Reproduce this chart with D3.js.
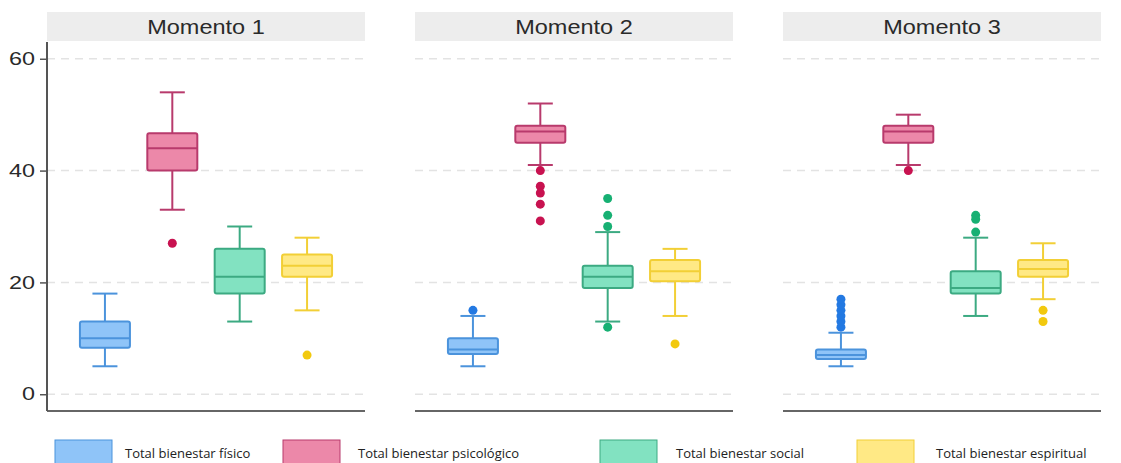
<!DOCTYPE html>
<html>
<head>
<meta charset="utf-8">
<script src="https://cdn.jsdelivr.net/npm/d3@7"></script>
<style>
  body { margin: 0; background: #fff; }
  svg { display: block; }
</style>
</head>
<body>
<div id="root"></div>
<script>
// Data
var moments = ["Momento 1", "Momento 2", "Momento 3"];
var seriesNames = ["Total bienestar físico", "Total bienestar psicológico", "Total bienestar social", "Total bienestar espiritual"];

// one row per moment, one value per series
var whiskerLow  = [[5, 33, 13, 15], [5, 41, 13, 14], [5, 41, 14, 17]];
var q1          = [[8.3, 40, 18, 21], [7.2, 45, 19, 20.2], [6.3, 45, 18, 21]];
var median      = [[10, 44, 21, 23], [8, 47, 21, 22], [7, 47, 19, 22.4]];
var q3          = [[13, 46.7, 26, 25], [10, 48, 23, 24], [8, 48, 22, 24]];
var whiskerHigh = [[18, 54, 30, 28], [14, 52, 29, 26], [11, 50, 28, 27]];
var outliers = [
  [[], [27], [], [7]],
  [[15], [40, 37.2, 36, 34, 31], [35, 32, 30, 12], [9]],
  [[12, 13, 14, 15, 16, 17], [40], [32, 31.3, 29], [15, 13]]
];
var yTicks = [0, 20, 40, 60];

var fills   = ["#8fc4f8", "#ec88a9", "#82e2c1", "#ffe985"];
var strokes = ["#4b93dc", "#b83a6c", "#3caa82", "#f2cf36"];
var dots    = ["#2379e2", "#c81250", "#17b073", "#f2c90e"];

var width = 1121, height = 463;
var svg = d3.select("#root").append("svg")
    .attr("width", width).attr("height", height);

var panelX = [47, 415, 783];
var panelW = 318;
var y = d3.scaleLinear().domain([-3, 63]).range([411, 42]);

moments.forEach(function (m, i) {
  var g = svg.append("g").attr("transform", "translate(" + panelX[i] + ",0)");

  // strip header
  g.append("rect").attr("x", 0).attr("y", 12).attr("width", panelW).attr("height", 29)
    .attr("fill", "#ededed");
  g.append("text")
    .attr("transform", "translate(" + (panelW / 2) + ",34) scale(1.12,1)")
    .attr("text-anchor", "middle")
    .style("font-family", "Liberation Sans, Arial, sans-serif")
    .style("font-size", "21px").attr("fill", "#2a2a2a").text(m);

  // dashed gridlines
  g.selectAll(".grid").data(yTicks).enter().append("line")
    .attr("x1", 0).attr("x2", panelW)
    .attr("y1", function (d) { return y(d); }).attr("y2", function (d) { return y(d); })
    .attr("stroke", "#e3e3e3").attr("stroke-width", 1.5).attr("stroke-dasharray", "8,6");

  // bottom axis line
  g.append("line").attr("x1", 0).attr("x2", panelW).attr("y1", 411).attr("y2", 411)
    .attr("stroke", "#666").attr("stroke-width", 2);

  var x = d3.scaleBand().domain(seriesNames).range([0, panelW]).paddingOuter(0.36).paddingInner(0);
  var bw = 50;

  seriesNames.forEach(function (s, j) {
    var cx = x(s) + x.bandwidth() / 2;
    var bg = g.append("g");
    // whisker
    bg.append("line").attr("x1", cx).attr("x2", cx)
      .attr("y1", y(whiskerLow[i][j])).attr("y2", y(whiskerHigh[i][j]))
      .attr("stroke", strokes[j]).attr("stroke-width", 2);
    [whiskerLow[i][j], whiskerHigh[i][j]].forEach(function (v) {
      bg.append("line").attr("x1", cx - bw / 4).attr("x2", cx + bw / 4)
        .attr("y1", y(v)).attr("y2", y(v))
        .attr("stroke", strokes[j]).attr("stroke-width", 2);
    });
    // box
    bg.append("rect").attr("x", cx - bw / 2).attr("width", bw)
      .attr("y", y(q3[i][j])).attr("height", y(q1[i][j]) - y(q3[i][j]))
      .attr("rx", 2)
      .attr("fill", fills[j]).attr("stroke", strokes[j]).attr("stroke-width", 2);
    bg.append("line").attr("x1", cx - bw / 2).attr("x2", cx + bw / 2)
      .attr("y1", y(median[i][j])).attr("y2", y(median[i][j]))
      .attr("stroke", strokes[j]).attr("stroke-width", 2);
    // outliers
    bg.selectAll("circle").data(outliers[i][j]).enter().append("circle")
      .attr("cx", cx).attr("cy", function (d) { return y(d); })
      .attr("r", 4.5).attr("fill", dots[j]);
  });
});

// y axis
var yAxis = svg.append("g").attr("transform", "translate(47,0)")
  .call(d3.axisLeft(y).tickValues(yTicks).tickSize(7).tickPadding(4));
yAxis.select(".domain").attr("stroke", "#555").attr("stroke-width", 2)
  .attr("d", "M0," + 42 + "V" + 411);
yAxis.selectAll(".tick line").attr("stroke", "#555").attr("stroke-width", 1.5);
yAxis.selectAll(".tick text")
  .attr("x", null)
  .attr("transform", "translate(-12,0) scale(1.3,1)")
  .style("font-family", "Liberation Sans, Arial, sans-serif")
  .style("font-size", "18px").attr("fill", "#2a2a2a");

// legend
var legendX = [55, 283, 600, 857];
var legendTextX = [125, 358, 676, 936];
var lg = svg.append("g");
seriesNames.forEach(function (s, j) {
  lg.append("rect").attr("x", legendX[j]).attr("y", 440).attr("width", 57).attr("height", 30)
    .attr("fill", fills[j]).attr("stroke", strokes[j]).attr("stroke-width", 1);
  lg.append("text").attr("x", legendTextX[j]).attr("y", 458)
    .style("font-family", "Open Sans, Noto Sans, sans-serif")
    .style("font-size", "13px").attr("fill", "#222").text(s);
});
</script>
</body>
</html>
